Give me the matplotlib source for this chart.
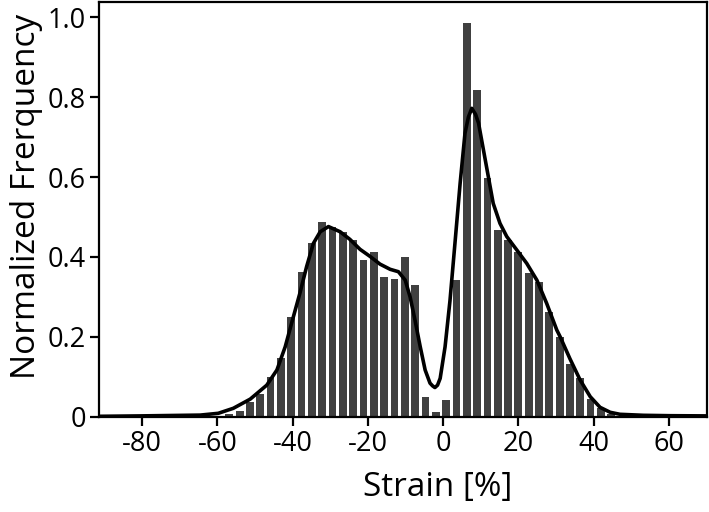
import matplotlib
matplotlib.use("Agg")
import matplotlib.pyplot as plt

# Histogram bins (bin centres in % strain) and normalized frequencies
bin_start = -56.85
bin_step = 2.744
bar_heights = [0.006, 0.015, 0.0375, 0.057, 0.10, 0.146, 0.25, 0.363, 0.436, 0.487,
               0.476, 0.463, 0.442, 0.392, 0.413, 0.349, 0.344, 0.401, 0.330, 0.050,
               0.012, 0.042, 0.342, 0.985, 0.818, 0.597, 0.467, 0.442, 0.413, 0.361,
               0.338, 0.263, 0.200, 0.131, 0.096, 0.045, 0.021, 0.007]
bin_centers = [bin_start + bin_step * k for k in range(len(bar_heights))]

# Smoothed density curve
curve_x = [-91.5, -80.6, -72.6, -64.6, -59.8, -55.8, -51.3, -46.9, -44.2, -42.0,
           -40.3, -38.1, -36.3, -34.5, -32.7, -30.5, -27.4, -24.8, -22.1, -19.4,
           -16.8, -14.1, -11.9, -10.1, -8.8, -7.5, -6.1, -4.8, -3.5, -2.8,
           -2.2, -1.5, -0.8, 0.5, 1.8, 3.2, 4.5, 5.8, 6.7, 7.6,
           8.6, 9.4, 10.7, 12.0, 13.3, 15.1, 16.9, 19.6, 22.2, 24.9,
           27.5, 30.2, 31.1, 33.7, 36.4, 39.1, 41.7, 44.4, 47.0, 53.2,
           60.3, 70.0]
curve_y = [0.001, 0.002, 0.003, 0.004, 0.0085, 0.021, 0.044, 0.079, 0.117, 0.175,
           0.234, 0.309, 0.376, 0.434, 0.463, 0.476, 0.463, 0.444, 0.419, 0.401,
           0.382, 0.369, 0.363, 0.342, 0.300, 0.242, 0.175, 0.117, 0.084, 0.077,
           0.073, 0.079, 0.096, 0.175, 0.29, 0.442, 0.584, 0.710, 0.750, 0.772,
           0.757, 0.735, 0.668, 0.601, 0.534, 0.484, 0.451, 0.417, 0.384, 0.342,
           0.284, 0.217, 0.200, 0.145, 0.092, 0.050, 0.0235, 0.011, 0.006, 0.0035,
           0.0025, 0.002]

x_ticks = [-80, -60, -40, -20, 0, 20, 40, 60]
x_tick_labels = ["-80", "-60", "-40", "-20", "0", "20", "40", "60"]
y_ticks = [0, 0.2, 0.4, 0.6, 0.8, 1.0]
y_tick_labels = ["0", "0.2", "0.4", "0.6", "0.8", "1.0"]

plt.rcParams['font.family'] = ['Open Sans', 'DejaVu Sans']

fig = plt.figure(figsize=(7.09, 5.12), dpi=100)
ax = fig.add_axes([99 / 709, 1 - 416.7 / 512, (706.5 - 99) / 709, (416.7 - 1.7) / 512])

ax.bar(bin_centers, bar_heights, width=bin_step * 0.75, color="#404040", zorder=2)
ax.plot(curve_x, curve_y, color="black", lw=2.6, solid_joinstyle="round",
        solid_capstyle="round", zorder=3)

ax.set_xlim(-91.5, 70)
ax.set_ylim(0, 1.039)
ax.set_xticks(x_ticks)
ax.set_xticklabels(x_tick_labels)
ax.set_yticks(y_ticks)
ax.set_yticklabels(y_tick_labels)

for s in ax.spines.values():
    s.set_linewidth(1.6)
ax.tick_params(axis="both", direction="out", length=6.5, width=1.6, labelsize=19.5)
ax.tick_params(axis="x", pad=3)
ax.tick_params(axis="y", pad=3)

ax.set_xlabel("Strain [%]", fontsize=24)
ax.set_ylabel("Normalized Frerquency", fontsize=24)
ax.xaxis.set_label_coords(0.558, -0.132)
ax.yaxis.set_label_coords(-0.092, 0.532)

fig.savefig("out.png", dpi=100)
